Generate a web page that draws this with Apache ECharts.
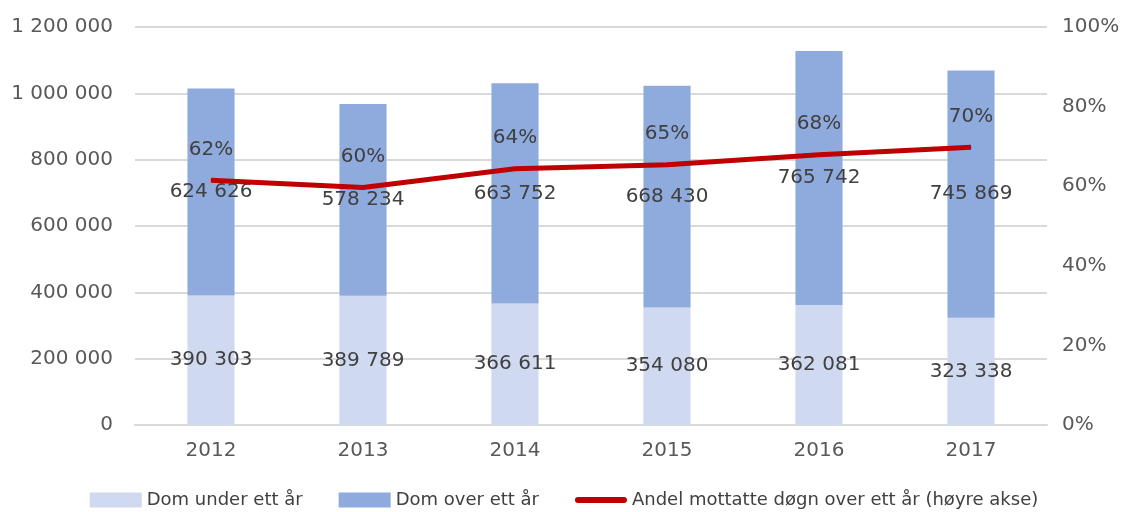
<!DOCTYPE html>
<html>
<head>
<meta charset="utf-8">
<script src="https://cdn.jsdelivr.net/npm/echarts@6/dist/echarts.min.js"></script>
<style>
  html, body { margin:0; padding:0; background:#fff; }
  #chart { width:1128px; height:512px; }
</style>
</head>
<body>
<div id="chart"></div>
<script>
const years = ['2012', '2013', '2014', '2015', '2016', '2017'];
const domUnder = [390303, 389789, 366611, 354080, 362081, 323338];
const domOver = [624626, 578234, 663752, 668430, 765742, 745869];
const andelOver = [61.5, 59.7, 64.4, 65.4, 67.9, 69.8];
const leftTicks = { min: 0, max: 1200000, interval: 200000 };
const rightTicks = { min: 0, max: 100, interval: 20 };

const font = 'DejaVu Sans';
const fmtNum = v => String(Math.round(v)).replace(/\B(?=(\d{3})+(?!\d))/g, ' ');
// thick rounded line for the legend, padded top and bottom so it keeps its height
const lineIcon = 'path://M0,0 L0.01,0 Z M3,4.5 L49,4.5 A3,3 0 0 1 49,10.5 L3,10.5 A3,3 0 0 1 3,4.5 Z M52,15 L51.99,15 Z';

let myChart = echarts.init(document.getElementById('chart'));
let option = {
    animation:false,
    textStyle:{ fontFamily:font },
    grid:{ left:135, right:81, top:27, bottom:87 },
    legend:{
        top:486,
        left:'center',
        itemWidth:52,
        itemHeight:15,
        itemGap:36,
        textStyle:{ color:'#404040', fontSize:18, fontFamily:font },
        data:[
            { name:'Dom under ett år', icon:'rect' },
            { name:'Dom over ett år', icon:'rect' },
            { name:'Andel mottatte døgn over ett år (høyre akse)', icon:lineIcon }
        ]
    },
    xAxis:{
        type:'category',
        data:years,
        axisLine:{ lineStyle:{ color:'#d9d9d9', width:2 } },
        axisTick:{ show:false },
        axisLabel:{ color:'#595959', fontSize:20, margin:16 }
    },
    yAxis:[
        {
            type:'value',
            min:leftTicks.min,
            max:leftTicks.max,
            interval:leftTicks.interval,
            axisLine:{ show:false },
            axisTick:{ show:false },
            axisLabel:{ color:'#595959', fontSize:20, margin:22, formatter:fmtNum },
            splitLine:{ lineStyle:{ color:'#d9d9d9', width:2 } }
        },
        {
            type:'value',
            min:rightTicks.min,
            max:rightTicks.max,
            interval:rightTicks.interval,
            axisLine:{ show:false },
            axisTick:{ show:false },
            axisLabel:{ color:'#595959', fontSize:20, margin:15, formatter:'{value}%' },
            splitLine:{ show:false }
        }
    ],
    series:[
        {
            name:'Dom under ett år',
            type:'bar',
            stack:'dom',
            barWidth:'31%',
            itemStyle:{ color:'#cfd9f0' },
            label:{ show:true, position:'inside', color:'#404040', fontSize:20, formatter:p => fmtNum(p.value) },
            data:domUnder
        },
        {
            name:'Dom over ett år',
            type:'bar',
            stack:'dom',
            barWidth:'31%',
            itemStyle:{ color:'#8faadc' },
            label:{ show:true, position:'inside', color:'#404040', fontSize:20, formatter:p => fmtNum(p.value) },
            data:domOver
        },
        {
            name:'Andel mottatte døgn over ett år (høyre akse)',
            type:'line',
            yAxisIndex:1,
            symbol:'circle',
            symbolSize:1,
            showSymbol:true,
            z:5,
            lineStyle:{ color:'#c00000', width:5 },
            itemStyle:{ color:'#c00000' },
            label:{ show:true, position:'top', distance:20, color:'#404040', fontSize:20, formatter:p => Math.round(p.value) + '%' },
            data:andelOver
        }
    ]
};
myChart.setOption(option);
</script>
</body>
</html>
